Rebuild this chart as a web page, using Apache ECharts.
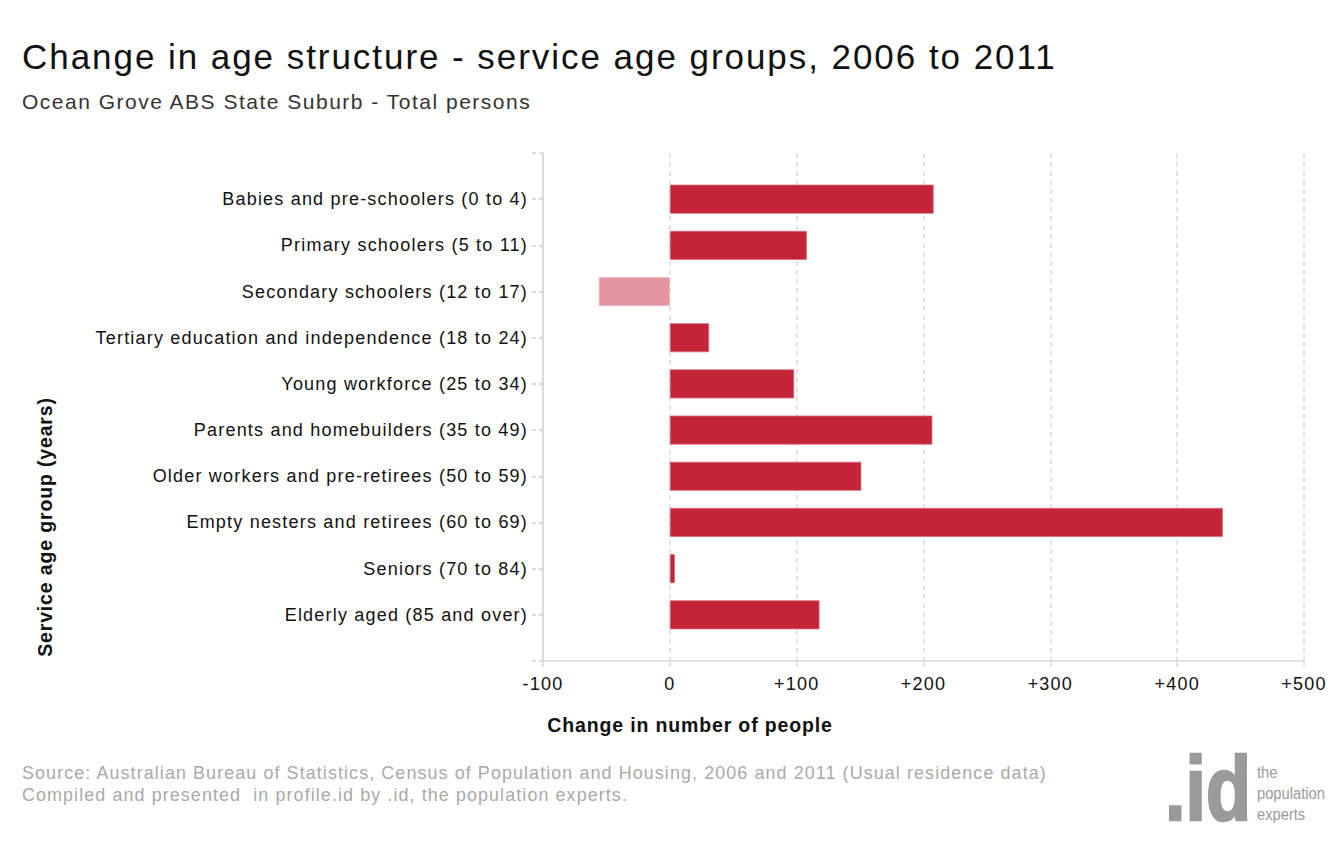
<!DOCTYPE html>
<html>
<head>
<meta charset="utf-8">
<script src="https://cdn.jsdelivr.net/npm/echarts@6/dist/echarts.min.js"></script>
<style>
html,body{margin:0;padding:0;background:#fff;}
#chart{width:1330px;height:843px;}
</style>
</head>
<body>
<div id="chart"></div>
<script>
var categories = [
  'Babies and pre-schoolers (0 to 4)',
  'Primary schoolers (5 to 11)',
  'Secondary schoolers (12 to 17)',
  'Tertiary education and independence (18 to 24)',
  'Young workforce (25 to 34)',
  'Parents and homebuilders (35 to 49)',
  'Older workers and pre-retirees (50 to 59)',
  'Empty nesters and retirees (60 to 69)',
  'Seniors (70 to 84)',
  'Elderly aged (85 and over)'
];
var changeValues = [208, 108, -56, 31, 98, 207, 151, 436, 4, 118];
var xTicks = [-100, 0, 100, 200, 300, 400, 500];

var titleText = 'Change in age structure - service age groups, 2006 to 2011';
var subtitleText = 'Ocean Grove ABS State Suburb - Total persons';
var yAxisTitle = 'Service age group (years)';
var xAxisTitle = 'Change in number of people';
var sourceLines = [
  'Source: Australian Bureau of Statistics, Census of Population and Housing, 2006 and 2011 (Usual residence data)',
  'Compiled and presented  in profile.id by .id, the population experts.'
];
var logoWords = ['the', 'population', 'experts'];

var axisCats = [''].concat(categories).concat(['']);
var barData = [null].concat(changeValues.map(function(v){
  return {value: v, itemStyle: {color: v < 0 ? '#E495A1' : '#C32438', borderColor: v < 0 ? '#EDB5BE' : '#D86A78'}};
})).concat([null]);

var FONT = '"Liberation Sans", Arial, sans-serif';
var chart = echarts.init(document.getElementById('chart'), null, {renderer: 'svg'});
chart.setOption({
  backgroundColor: '#fff',
  animation: false,
  grid: {left: 543, right: 26, top: 153, bottom: 182},
  xAxis: {
    type: 'value', min: xTicks[0], max: xTicks[xTicks.length-1], interval: 100,
    axisLine: {show: true, lineStyle: {color: '#dadada', width: 1.5}},
    axisTick: {show: true, length: 6, lineStyle: {color: '#dadada', width: 1.5}},
    axisLabel: {color: '#111', fontFamily: FONT, fontSize: 18, margin: 14,
      formatter: function(v){ return v > 0 ? '+' + v : String(v); }},
    splitLine: {show: true, lineStyle: {color: '#dcdcdc', type: [5, 4], width: 1.5}}
  },
  yAxis: {
    type: 'category', data: axisCats, inverse: true, boundaryGap: false,
    axisLine: {show: true, onZero: false, lineStyle: {color: '#dadada', width: 2}},
    axisTick: {show: true, length: 13, lineStyle: {color: '#d0d0d0', type: [4, 3], width: 1.5}},
    axisLabel: {color: '#111', fontFamily: FONT, fontSize: 18, margin: 15},
    splitLine: {show: false}
  },
  series: [{
    type: 'bar', data: barData, barWidth: 29,
    itemStyle: {borderWidth: 0.8}
  }],
  graphic: [
    {type: 'text', left: 22, top: 39, style: {text: titleText, font: '35px ' + FONT, fill: '#111'}},
    {type: 'text', left: 22, top: 91, style: {text: subtitleText, font: '21px ' + FONT, fill: '#333'}},
    {type: 'text', x: 45, y: 527, rotation: Math.PI/2, style: {text: yAxisTitle, font: 'bold 19.5px ' + FONT, fill: '#111', align: 'center', verticalAlign: 'middle'}},
    {type: 'text', x: 690, y: 725, style: {text: xAxisTitle, font: 'bold 19.5px ' + FONT, fill: '#111', align: 'center', verticalAlign: 'middle'}},
    {type: 'text', left: 22, top: 764, style: {text: sourceLines[0], font: '17.9px ' + FONT, fill: '#a9a9a9'}},
    {type: 'text', left: 22, top: 786, style: {text: sourceLines[1], font: '17.9px ' + FONT, fill: '#a9a9a9'}},
    {type: 'text', x: 1165, y: 834, scaleX: 0.82, style: {text: '.id', font: 'bold 90px ' + FONT, fill: '#9a9a9a', stroke: '#9a9a9a', lineWidth: 2.5, verticalAlign: 'bottom'}},
    {type: 'text', x: 1257, y: 772, scaleX: 0.92, style: {text: logoWords[0], font: '16px ' + FONT, fill: '#9a9a9a', verticalAlign: 'middle'}},
    {type: 'text', x: 1257, y: 793, scaleX: 0.92, style: {text: logoWords[1], font: '16px ' + FONT, fill: '#9a9a9a', verticalAlign: 'middle'}},
    {type: 'text', x: 1257, y: 814, scaleX: 0.92, style: {text: logoWords[2], font: '16px ' + FONT, fill: '#9a9a9a', verticalAlign: 'middle'}}
  ]
});

// Emulate the wide GDI text advance of the original via letter-spacing
var spacingBySize = {'35': 1.95, '21': 1.5, '18': 1.2, '17.9': 1.1, '19.5': 0.85};
function applySpacing(){
  var texts = document.querySelectorAll('#chart svg text');
  for (var i = 0; i < texts.length; i++) {
    var fs = parseFloat(window.getComputedStyle(texts[i]).fontSize);
    var key = String(Math.round(fs * 10) / 10);
    if (spacingBySize[key] != null) {
      texts[i].style.letterSpacing = spacingBySize[key] + 'px';
    }
  }
}
applySpacing();
chart.on('finished', applySpacing);
setTimeout(applySpacing, 50);
</script>
</body>
</html>
